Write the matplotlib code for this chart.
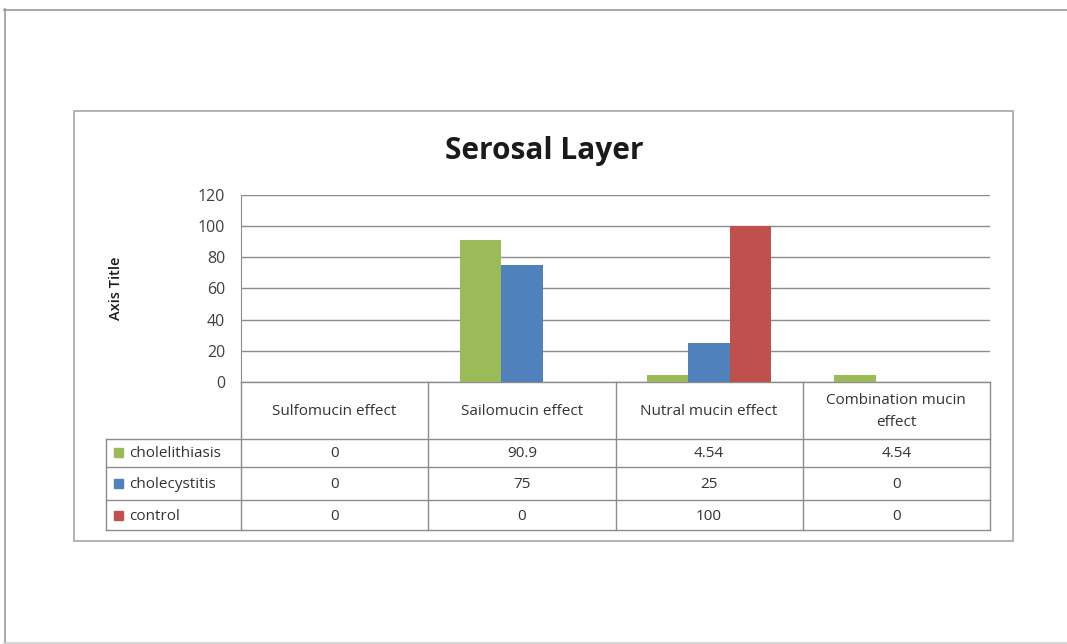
import matplotlib
matplotlib.use("Agg")
import matplotlib.pyplot as plt
import numpy as np
from matplotlib.lines import Line2D
from matplotlib.patches import Rectangle
import matplotlib.transforms as mtransforms

plt.rcParams['font.family'] = ['Open Sans', 'DejaVu Sans']

categories = ["Sulfomucin effect", "Sailomucin effect", "Nutral mucin effect",
              "Combination mucin\neffect"]
series = ["cholelithiasis", "cholecystitis", "control"]
cholelithiasis = [0, 90.9, 4.54, 4.54]
cholecystitis = [0, 75, 25, 0]
control = [0, 0, 100, 0]
values = [cholelithiasis, cholecystitis, control]
colors = ["#9BBB59", "#4F81BD", "#C0504D"]
yticks = [0, 20, 40, 60, 80, 100, 120]

W, H = 1067, 644
fig = plt.figure(figsize=(W / 100, H / 100), dpi=100)

def px(x0, y0, x1, y1):
    # pixel box -> figure fraction rect
    return [x0 / W, 1 - y1 / H, (x1 - x0) / W, (y1 - y0) / H]

def fline(xs, ys, color="#9a9a9a", lw=1.2):
    fig.add_artist(Line2D([v / W for v in xs], [1 - v / H for v in ys],
                          transform=fig.transFigure, color=color, lw=lw))

# page frame (open on the right) and chart frame
fline([4, W + 5], [9.5, 9.5])
fline([4.5, 4.5], [9, 643])
fline([4, W + 5], [643, 643], color="#d0d0d0")
fig.add_artist(Rectangle((74 / W, 1 - 541 / H), (1013 - 74) / W, (541 - 111) / H,
                         transform=fig.transFigure, fill=False, edgecolor="#a6a6a6", lw=1.2))

ax = fig.add_axes(px(241, 195, 990, 382))
x = np.arange(len(categories))
bw = 0.222
for i, (vals, c) in enumerate(zip(values, colors)):
    ax.bar(x + (i - 1) * bw, vals, width=bw, color=c, zorder=3)

ax.set_xlim(-0.5, len(categories) - 0.5)
ax.set_ylim(0, 120)
ax.set_yticks(yticks)
ax.set_yticklabels([str(t) for t in yticks], fontsize=11.5, color="#404040")
ax.tick_params(axis="y", length=0, pad=11.5)
ax.set_xticks([])
ax.grid(axis="y", color="#8c8c8c", lw=1, zorder=0)
for s in ["top", "right", "bottom"]:
    ax.spines[s].set_visible(False)
ax.spines["left"].set_color("#8c8c8c")
ax.set_ylabel("Axis Title", fontsize=10.5, fontweight="semibold", color="#1a1a1a",
              labelpad=54)

fig.text(544 / W, 1 - 151 / H, "Serosal Layer", ha="center", va="center",
         fontsize=21.5, fontweight="bold", color="#1a1a1a")

# data table beneath the plot, aligned to the category columns
tr = mtransforms.blended_transform_factory(ax.transData, ax.transAxes)
line_kw = dict(transform=tr, color="#8c8c8c", lw=1, clip_on=False)
ah = 187.0
row_y = [(382 - y) / ah for y in (382, 439, 467, 500, 530)]
left_x = -0.5 - (241 - 106) / 187.0
xr = len(categories) - 0.5

for b in np.arange(-0.5, len(categories), 1.0):
    ax.add_line(Line2D([b, b], [row_y[0], row_y[-1]], **line_kw))
ax.add_line(Line2D([left_x, left_x], [row_y[1], row_y[-1]], **line_kw))
ax.add_line(Line2D([-0.5, xr], [0, 0], **line_kw))
for y in row_y[1:]:
    ax.add_line(Line2D([left_x, xr], [y, y], **line_kw))

txt_kw = dict(transform=tr, fontsize=11, color="#333333", ha="center", va="center")
for j, cat in enumerate(categories):
    ax.text(j, (row_y[0] + row_y[1]) / 2 - 1 / ah, cat, linespacing=1.65, **txt_kw)
for i, (name, vals, c) in enumerate(zip(series, values, colors)):
    yc = (row_y[i + 1] + row_y[i + 2]) / 2
    for j, v in enumerate(vals):
        ax.text(j, yc - 1 / ah, f"{v:g}", **txt_kw)
    kx = left_x + 8 / 187.0
    ax.add_patch(Rectangle((kx, yc - 4.5 / ah), 9 / 187.0, 9 / ah, transform=tr,
                           color=c, clip_on=False))
    ax.text(left_x + 23 / 187.0, yc - 1 / ah, name, transform=tr, fontsize=11,
            color="#333333", ha="left", va="center")

fig.savefig("out.png", dpi=100)
